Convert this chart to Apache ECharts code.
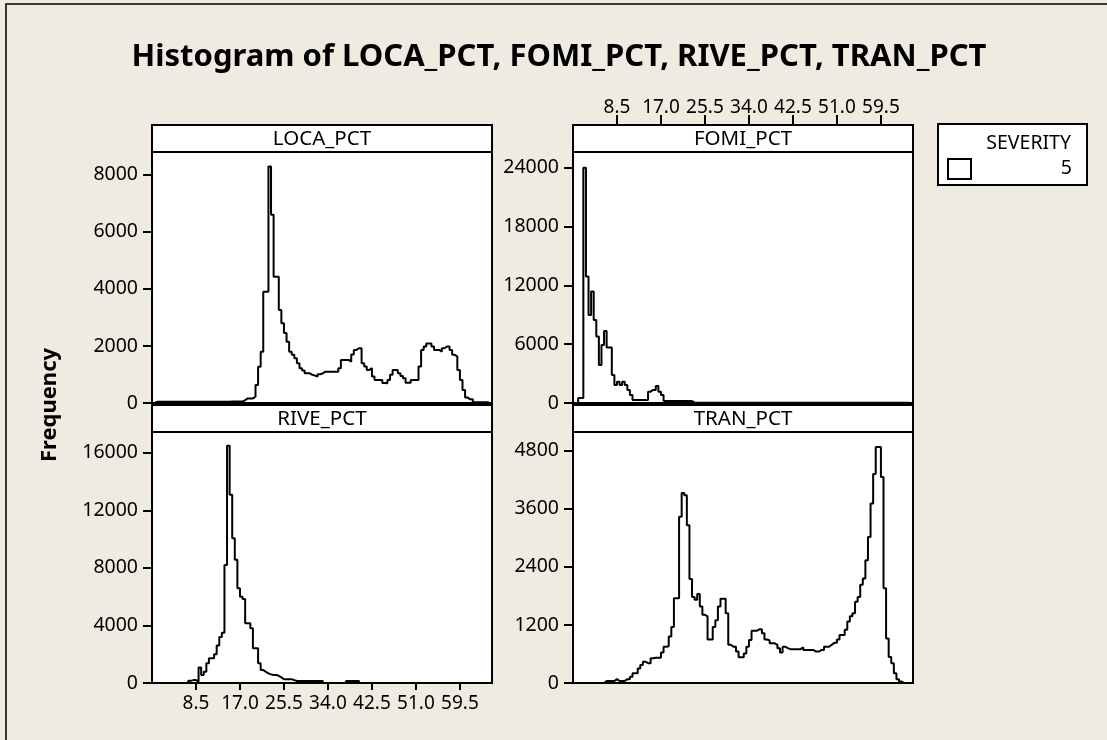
<!DOCTYPE html>
<html lang="en">
<head>
<meta charset="utf-8">
<title>Histogram of LOCA_PCT, FOMI_PCT, RIVE_PCT, TRAN_PCT</title>
<script src="https://cdn.jsdelivr.net/npm/echarts@6/dist/echarts.min.js"></script>
<style>
  body { margin: 0; background: #efebe1; }
  #main { width: 1107px; height: 740px; }
</style>
</head>
<body>
<div id="main"></div>
<script type="text/javascript">
    // histogram bins: width 0.5, first bin starts at 0.5
    var binStart = 0.5;
    var binWidth = 0.5;
    var xTicks = [8.5, 17.0, 25.5, 34.0, 42.5, 51.0, 59.5];

    var panelNames = ['LOCA_PCT', 'FOMI_PCT', 'RIVE_PCT', 'TRAN_PCT'];

    var locaCounts = [
        40, 40, 40, 40, 40, 40, 40, 40, 40, 40,
        40, 40, 40, 40, 40, 40, 40, 40, 40, 40,
        40, 40, 40, 40, 40, 40, 40, 40, 40, 50,
        50, 50, 50, 50, 100, 160, 160, 160, 220, 630,
        1270, 1800, 3900, 3900, 8290, 6600, 4430, 4430, 3260, 2800,
        2450, 2150, 1800, 1690, 1570, 1390, 1220, 1140, 1040, 1040,
        990, 960, 930, 1010, 1040, 1100, 1100, 1100, 1100, 1100,
        1100, 1220, 1510, 1510, 1510, 1450, 1700, 1860, 1920, 1920,
        1390, 1280, 1160, 1220, 930, 810, 810, 810, 700, 690,
        810, 990, 1160, 1160, 1040, 950, 870, 710, 710, 810,
        810, 810, 1280, 1860, 1980, 2090, 2090, 1980, 1860, 1860,
        1800, 1920, 1980, 1980, 1860, 1690, 1630, 1160, 810, 460,
        190, 130, 130, 30, 30, 30, 30, 30, 30
    ];
    var fomiCounts = [
        0, 500, 500, 24000, 12890, 8980, 11360, 8470, 6770, 3880,
        5920, 7350, 5650, 5650, 2860, 1840, 2180, 1840, 2180, 1840,
        1330, 820, 310, 310, 310, 310, 310, 310, 1160, 1330,
        1330, 1730, 1160, 820, 200, 200, 200, 200, 200, 200,
        200, 200, 200, 200, 200, 30, 30, 30, 30, 30,
        30, 30, 30, 30, 30, 30, 30, 30, 30, 30,
        30, 30, 30, 30, 30, 30, 30, 30, 30, 30,
        30, 30, 30, 30, 30, 30, 30, 30, 30, 30,
        30, 30, 30, 30, 30, 30, 30, 30, 30, 30,
        30, 30, 30, 30, 30, 30, 30, 30, 30, 30,
        30, 30, 30, 30, 30, 30, 30, 30, 30, 30,
        30, 30, 30, 30, 30, 30, 30, 30, 30, 30,
        30, 30, 30, 30, 30, 30, 30, 30, 30
    ];
    var riveCounts = [
        0, 0, 0, 0, 0, 0, 0, 0, 0, 0,
        0, 0, 0, 150, 200, 200, 100, 1070, 560, 790,
        1370, 1720, 1720, 2000, 2600, 3200, 3500, 8210, 16490, 13080,
        10070, 8560, 6590, 6000, 5840, 4150, 4150, 3800, 2410, 2410,
        1370, 900, 780, 670, 600, 560, 560, 500, 390, 260,
        260, 260, 260, 200, 140, 140, 140, 140, 140, 140,
        140, 140, 140, 140, 140, 0, 0, 0, 0, 0,
        0, 0, 0, 0, 140, 140, 140, 140, 140, 0,
        0, 0, 0, 0, 0, 0, 0, 0, 0, 0,
        0, 0, 0, 0, 0, 0, 0, 0, 0, 0,
        0, 0, 0, 0, 0, 0, 0, 0, 0, 0,
        0, 0, 0, 0, 0, 0, 0, 0, 0, 0,
        0, 0, 0, 0, 0, 0, 0, 0, 0
    ];
    var tranCounts = [
        0, 0, 0, 0, 0, 0, 0, 0, 0, 0,
        0, 40, 40, 40, 40, 80, 40, 40, 40, 80,
        80, 130, 200, 200, 300, 370, 440, 410, 410, 510,
        520, 520, 520, 630, 750, 760, 960, 1160, 1750, 1750,
        3440, 3930, 3880, 3260, 2150, 1780, 1720, 1840, 1580, 1410,
        1380, 900, 900, 1160, 1300, 1580, 1740, 1740, 1440, 790,
        750, 750, 650, 530, 530, 610, 750, 890, 1080, 1080,
        1110, 1110, 1030, 900, 880, 820, 820, 790, 720, 630,
        750, 720, 700, 700, 700, 700, 700, 740, 680, 680,
        680, 680, 650, 650, 680, 680, 750, 750, 790, 830,
        830, 900, 990, 990, 1100, 1270, 1380, 1440, 1680, 1780,
        2030, 2160, 2540, 3020, 3710, 4320, 4880, 4880, 4260, 1960,
        920, 540, 410, 200, 80, 30, 0, 0, 0
    ];

    var locaTicks = [0, 2000, 4000, 6000, 8000];
    var fomiTicks = [0, 6000, 12000, 18000, 24000];
    var riveTicks = [0, 4000, 8000, 12000, 16000];
    var tranTicks = [0, 1200, 2400, 3600, 4800];
    var yMax = [8800, 25600, 17450, 5190];

    var legendTitle = 'SEVERITY';
    var legendItem = '5';

    // --- layout ---
    var font = 'Noto Sans';
    var panels = [
        {left: 152, top: 152, counts: locaCounts, ticks: locaTicks, xTop: false, xBottom: false},
        {left: 573, top: 152, counts: fomiCounts, ticks: fomiTicks, xTop: true, xBottom: false},
        {left: 152, top: 432, counts: riveCounts, ticks: riveTicks, xTop: false, xBottom: true},
        {left: 573, top: 432, counts: tranCounts, ticks: tranTicks, xTop: false, xBottom: false}
    ];
    var panelW = 340, panelH = 251, headH = 27;

    // outline of the bars as a step line through the bin edges
    function stepData(counts) {
        var pts = [[binStart, 0]];
        for (var k = 0; k < counts.length; k++) {
            pts.push([binStart + k * binWidth, counts[k]]);
        }
        var end = binStart + counts.length * binWidth;
        pts.push([end, counts[counts.length - 1]]);
        pts.push([end, 0]);
        return pts;
    }

    var grids = [], xAxes = [], yAxes = [], series = [], graphics = [];

    panels.forEach(function (p, i) {
        grids.push({
            left: p.left, top: p.top, width: panelW, height: panelH,
            show: true, backgroundColor: '#fff', borderColor: '#000', borderWidth: 2
        });
        var showX = p.xTop || p.xBottom;
        xAxes.push({
            gridIndex: i, type: 'value', min: 0, max: 65.7,
            show: showX,
            position: p.xTop ? 'top' : 'bottom',
            offset: p.xTop ? headH : 0,
            axisLine: {show: p.xTop, onZero: false, lineStyle: {color: '#000', width: 2}},
            splitLine: {show: false},
            axisTick: {
                show: true, length: p.xTop ? 10 : 7, customValues: xTicks,
                lineStyle: {color: '#000', width: 2}
            },
            axisLabel: {
                customValues: xTicks, margin: p.xTop ? 8 : 11,
                color: '#000', fontFamily: font, fontSize: 19,
                formatter: function (v) { return v.toFixed(1); }
            }
        });
        yAxes.push({
            gridIndex: i, type: 'value', min: 0, max: yMax[i],
            axisLine: {show: false, onZero: false},
            splitLine: {show: false},
            axisTick: {
                show: true, length: 9, customValues: p.ticks,
                lineStyle: {color: '#000', width: 2}
            },
            axisLabel: {
                customValues: p.ticks, margin: 14,
                color: '#000', fontFamily: font, fontSize: 19.5,
                formatter: function (v) { return String(v); }
            }
        });
        series.push({
            type: 'line', step: 'end', xAxisIndex: i, yAxisIndex: i,
            data: stepData(p.counts), showSymbol: false, clip: true,
            lineStyle: {color: '#000', width: 2}
        });
        // panel header strip
        graphics.push({
            type: 'rect',
            shape: {x: p.left, y: p.top - headH, width: panelW, height: headH},
            style: {fill: '#fff', stroke: '#000', lineWidth: 2},
            z: 10
        });
        graphics.push({
            type: 'text', x: p.left + panelW / 2, y: p.top - headH / 2 + 1,
            style: {
                text: panelNames[i], fill: '#000', font: '20.5px "' + font + '"',
                textAlign: 'center', textVerticalAlign: 'middle'
            },
            z: 11
        });
    });

    // outer frame, title, y name
    graphics.push({
        type: 'rect', shape: {x: 6, y: 4, width: 1200, height: 800},
        style: {fill: null, stroke: '#000', lineWidth: 1.5}, z: 1
    });
    graphics.push({
        type: 'text', x: 559, y: 57,
        style: {
            text: 'Histogram of LOCA_PCT, FOMI_PCT, RIVE_PCT, TRAN_PCT',
            fill: '#000', font: 'bold 31px "' + font + '"',
            textAlign: 'center', textVerticalAlign: 'middle'
        }
    });
    graphics.push({
        type: 'text', x: 50, y: 405, rotation: Math.PI / 2,
        style: {
            text: 'Frequency', fill: '#000', font: 'bold 22px "' + font + '"',
            textAlign: 'center', textVerticalAlign: 'middle'
        }
    });

    // legend box
    graphics.push({
        type: 'rect', shape: {x: 938, y: 124, width: 149, height: 61},
        style: {fill: '#fff', stroke: '#000', lineWidth: 2}
    });
    graphics.push({
        type: 'rect', shape: {x: 948, y: 159, width: 23, height: 20},
        style: {fill: '#fff', stroke: '#000', lineWidth: 2}
    });
    graphics.push({
        type: 'text', x: 1071, y: 143,
        style: {
            text: legendTitle, fill: '#000', font: '19.5px "' + font + '"',
            textAlign: 'right', textVerticalAlign: 'middle'
        }
    });
    graphics.push({
        type: 'text', x: 1072, y: 168,
        style: {
            text: legendItem, fill: '#000', font: '19.5px "' + font + '"',
            textAlign: 'right', textVerticalAlign: 'middle'
        }
    });

    var myChart = echarts.init(document.getElementById('main'));
    var option = {
        backgroundColor: '#efebe1',
        animation: false,
        grid: grids,
        xAxis: xAxes,
        yAxis: yAxes,
        series: series,
        graphic: graphics
    };
    myChart.setOption(option);
</script>
</body>
</html>
